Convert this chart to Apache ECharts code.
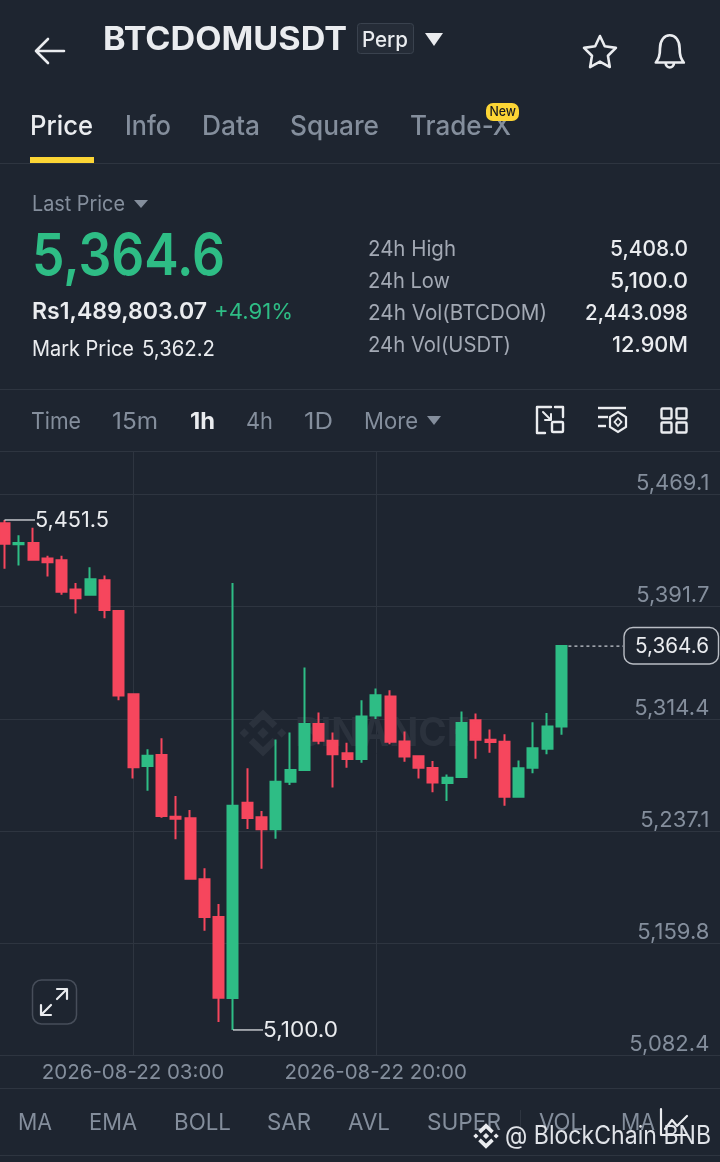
<!DOCTYPE html>
<html><head><meta charset="utf-8">
<style>html,body{margin:0;padding:0;background:#1E2530}#c{width:720px;height:1162px}</style>
<script src="https://cdn.jsdelivr.net/npm/echarts@6/dist/echarts.min.js"></script>
</head><body><div id="c"></div>
<script>
const categories = [
"2026-08-21 18:00","2026-08-21 19:00","2026-08-21 20:00","2026-08-21 21:00","2026-08-21 22:00","2026-08-21 23:00",
"2026-08-22 00:00","2026-08-22 01:00","2026-08-22 02:00","2026-08-22 03:00","2026-08-22 04:00","2026-08-22 05:00",
"2026-08-22 06:00","2026-08-22 07:00","2026-08-22 08:00","2026-08-22 09:00","2026-08-22 10:00","2026-08-22 11:00",
"2026-08-22 12:00","2026-08-22 13:00","2026-08-22 14:00","2026-08-22 15:00","2026-08-22 16:00","2026-08-22 17:00",
"2026-08-22 18:00","2026-08-22 19:00","2026-08-22 20:00","2026-08-22 21:00","2026-08-22 22:00","2026-08-22 23:00",
"2026-08-23 00:00","2026-08-23 01:00","2026-08-23 02:00","2026-08-23 03:00","2026-08-23 04:00","2026-08-23 05:00",
"2026-08-23 06:00","2026-08-23 07:00","2026-08-23 08:00","2026-08-23 09:00",
"","","","","","","","","","",""];
// open, close, low, high
const ohlc = [
[5449.3,5435.2,5417.9,5451.5],[5434.7,5435.7,5420.2,5440.9],[5435.6,5424.1,5423.7,5446.2],[5425.0,5422.3,5412.6,5426.9],
[5423.7,5402.1,5400.0,5426.9],[5403.5,5397.5,5387.0,5408.0],[5400.0,5410.6,5400.0,5419.0],[5409.9,5389.4,5383.7,5413.3],
[5388.7,5330.5,5327.3,5388.7],[5331.4,5281.0,5273.4,5331.4],[5281.9,5289.0,5264.9,5293.4],[5289.6,5247.4,5246.3,5301.1],
[5247.0,5245.6,5231.4,5261.2],[5245.9,5204.3,5204.3,5251.6],[5203.9,5177.9,5168.3,5211.4],[5177.9,5122.2,5105.5,5186.9],
[5122.0,5254.5,5100.0,5408.0],[5256.6,5246.1,5238.5,5280.3],[5246.6,5238.3,5211.2,5250.9],[5238.3,5271.1,5231.8,5300.2],
[5271.1,5279.1,5268.8,5305.1],[5279.1,5310.8,5279.1,5349.8],[5310.8,5299.3,5297.0,5318.8],[5299.3,5290.1,5267.2,5305.1],
[5290.8,5286.7,5280.7,5297.9],[5286.7,5316.1,5284.1,5327.3],[5316.8,5330.7,5314.4,5335.3],[5329.8,5298.6,5297.0,5334.2],
[5298.9,5288.5,5284.8,5305.7],[5288.7,5280.7,5273.4,5288.7],[5280.5,5270.6,5263.9,5285.3],[5270.2,5273.8,5257.8,5276.1],
[5274.3,5311.5,5274.3,5319.5],[5313.5,5300.0,5286.9,5318.1],[5300.0,5298.4,5291.0,5307.1],[5298.6,5260.7,5254.5,5303.9],
[5260.7,5280.3,5260.3,5285.8],[5280.7,5294.2,5277.0,5312.1],[5293.8,5309.2,5290.1,5318.5],[5309.2,5364.6,5303.4,5365.1]];
const priceTicks = [5082.4,5159.8,5237.1,5314.4,5391.7,5469.1];
const xTickLabels = ["2026-08-22 03:00","2026-08-22 20:00"];
const highMark = {cat:"2026-08-21 18:00", value:5451.5, label:"5,451.5"};
const lowMark = {cat:"2026-08-22 10:00", value:5100.0, label:"5,100.0"};
const lastPrice = {cat:"2026-08-23 09:00", value:5364.6, label:"5,364.6"};
const BG='#1E2530', GRID='#2E3540', GREY='#848E9C', LBL='#A3A9B4', WHITE='#EAECEF', RED='#F6465D', GREEN='#2EBD85', YEL='#FCD535';
const FONT='Inter';
const chart = echarts.init(document.getElementById('c'),null,{renderer:'canvas'});
chart.setOption({
  animation:false, backgroundColor:BG,
  grid:{left:-2.64, top:451.5, width:728.28, height:604, containLabel:false, outerBoundsMode:'none'},
  xAxis:{type:'category',data:categories,boundaryGap:true,
    axisLine:{show:false},
    axisTick:{show:false,alignWithLabel:true},
    splitLine:{show:true,alignWithLabel:true,lineStyle:{color:GRID,width:1},
      interval:(i,v)=>xTickLabels.includes(v)},
    axisLabel:{show:true,interval:(i,v)=>xTickLabels.includes(v),color:GREY,fontFamily:FONT,fontSize:20.5,margin:7,hideOverlap:false}},
  yAxis:{type:'value',position:'right',min:5082.4,max:5498.7,scale:true,
    axisLine:{show:false},
    axisTick:{show:false,customValues:priceTicks},
    splitLine:{show:true,lineStyle:{color:GRID,width:1}},
    axisLabel:{inside:true,margin:16.3,color:GREY,fontFamily:FONT,fontSize:22,verticalAlign:'bottom',customValues:priceTicks,
      formatter:v=>Number(v).toLocaleString('en-US',{minimumFractionDigits:1,maximumFractionDigits:1})}},
  series:[{type:'candlestick',data:ohlc,barWidth:10.5,z:5,clip:false,
    itemStyle:{color:GREEN,color0:RED,borderColor:GREEN,borderColor0:RED,borderWidth:2}}]
});

const mc=document.createElement('canvas').getContext('2d');
function T(t,x0,x1,y,size,color,weight){
  const font=`${weight||400} ${size}px ${FONT}`; mc.font=font;
  const w=mc.measureText(t).width;
  return {type:'text',x:x0,y:y+1,scaleX:(x1-x0)/w,z:20,style:{text:t,x:0,y:0,font:font,fill:color,textAlign:'left',textVerticalAlign:'middle',textBaseline:'middle'}};
}
function L(x1,y1,x2,y2,c,w,dash,z){return {type:'line',z:z||1,shape:{x1,y1,x2,y2},style:{stroke:c,lineWidth:w||1,lineDash:dash}}}
function R(x,y,w,h,r,fill,stroke,lw,z){return {type:'rect',z:z||20,shape:{x,y,width:w,height:h,r},style:{fill:fill||'none',stroke:stroke||'none',lineWidth:lw||1}}}
function Tri(cx,y0,y1,hw,c){return {type:'polygon',z:20,shape:{points:[[cx-hw,y0],[cx+hw,y0],[cx,y1]]},style:{fill:c}}}
let pathId=0;
function Pa(d,x,y,sx,sy,stroke,fill,lw,z){
  const name='uiPath'+(pathId++);
  echarts.graphic.registerShape(name,echarts.graphic.extendPath(d,{}));
  return {type:name,z:z||20,x,y,scaleX:sx,scaleY:sy,style:{fill:fill||'none',stroke:stroke||'none',lineWidth:lw||2,lineJoin:'round',lineCap:'round',strokeNoScale:true}};
}
function Diamonds(cx,cy,s,c,z){ // Binance mark
  const d=(x,y,r)=>({type:'polygon',z,shape:{points:[[x,y-r],[x+r,y],[x,y+r],[x-r,y]]},style:{fill:c}});
  const ch=(pts)=>({type:'polyline',z,shape:{points:pts},style:{stroke:c,lineWidth:s*0.28,fill:'none',lineJoin:'miter'}});
  return [d(cx,cy,s*0.24),d(cx-s*0.78,cy,s*0.2),d(cx+s*0.78,cy,s*0.2),
    ch([[cx-s*.5,cy-s*.3],[cx,cy-s*.78],[cx+s*.5,cy-s*.3]]),
    ch([[cx-s*.5,cy+s*.3],[cx,cy+s*.78],[cx+s*.5,cy+s*.3]])];
}
const P=(c,v)=>chart.convertToPixel({gridIndex:0},[c,v]);
const hp=P(highMark.cat,highMark.value), lp=P(lowMark.cat,lowMark.value), cp=P(lastPrice.cat,lastPrice.value);
const g=[
  // top bar
  Pa('M28 0 L0 0 M12 -12 L0 0 L12 12',36,51,1,1,WHITE,null,2.6),
  T('BTCDOMUSDT',103,347,39.5,32,WHITE,700),
  R(357.5,23.5,56,30,3,'#252C37','#3A424E',1),
  T('Perp',362,408,39.5,21,WHITE,500),
  Tri(434,33,46,9,WHITE),
  Pa('M12 0 L15.6 7.6 L24 8.8 L18 14.6 L19.4 23 L12 19 L4.6 23 L6 14.6 L0 8.8 L8.4 7.6 Z',584,36,1.33,1.35,WHITE,null,2.6),
  Pa('M2 22 C4 19 5 17 5 11 C5 5 8 1 12 1 C16 1 19 5 19 11 C19 17 20 19 22 22 Z M9 22 C9 27 15 27 15 22',653,34,1.4,1.3,WHITE,null,2.6),
  // tabs
  T('Price',30,93,126,27,WHITE,500),T('Info',125,171,126,27,GREY,500),T('Data',202,260,126,27,GREY,500),
  T('Square',290,379,126,27,GREY,500),T('Trade-X',410,511,126,27,GREY,500),
  R(486,103,33,18,7,YEL,null,1,21),
  Object.assign(T('New',489.5,516,111,13,'#181A20',500),{z:22}),
  R(30,157,64,6,0,YEL),
  L(0,163.5,720,163.5,GRID),
  // stats
  T('Last Price',32,125,204,21,GREY,400),Tri(141,200,208,7,GREY),
  T('5,364.6',32,225,257,58,GREEN,600),
  T('Rs1,489,803.07',32,207,311,23,WHITE,600),T('+4.91%',214,293,311,22,GREEN,400),
  T('Mark Price',32,134,349,21,WHITE,400),T('5,362.2',142,215,349,21,WHITE,400),
  T('24h High',368,456,249,21,LBL,400),T('24h Low',368,450,281,21,LBL,400),
  T('24h Vol(BTCDOM)',368,547,313,21,LBL,400),T('24h Vol(USDT)',368,511,345,21,LBL,400),
  T('5,408.0',610,688,249,21,WHITE,500),T('5,100.0',610,688,281,21,WHITE,500),
  T('2,443.098',585,688,313,21,WHITE,500),T('12.90M',612,688,345,21,WHITE,500),
  L(0,389.5,720,389.5,GRID),
  // interval row
  T('Time',31,81,421,23,GREY),T('15m',112,158,421,23,GREY),T('1h',190,215,421,23,WHITE,700),
  T('4h',246,273,421,23,GREY),T('1D',304,333,421,23,GREY),T('More',364,418,421,23,GREY),Tri(434,416,425,7,GREY),
  Pa('M14 0 H0 V26 H8 M18 0 H26 V10',537,407,1,1,WHITE,null,2.4),
  R(552,422,11,10,1,null,WHITE,2.4),
  Pa('M0 0 L8 8 M8 2 V8 H2',543,412,1,1,WHITE,null,2),
  L(598,408,626,408,WHITE,2.4,null,20),L(598,417,608,417,WHITE,2.4,null,20),L(598,426,606,426,WHITE,2.4,null,20),
  {type:'polygon',z:20,shape:{points:[[618,412],[626,417],[626,427],[618,432],[610,427],[610,417]]},style:{fill:'none',stroke:WHITE,lineWidth:2.2}},
  {type:'polygon',z:20,shape:{points:[[618,418],[621.5,422],[618,426],[614.5,422]]},style:{fill:'none',stroke:WHITE,lineWidth:1.8}},
  R(661.5,408.5,10,10,1,null,WHITE,2.4),R(676.5,408.5,10,10,1,null,WHITE,2.4),
  R(661.5,422.5,10,10,1,null,WHITE,2.4),R(676.5,422.5,10,10,1,null,WHITE,2.4),
  L(0,451.5,720,451.5,GRID),
  // watermark
  ...Diamonds(263,733,24,'#2B323D',1),
  Object.assign(T('BINANCE',295,470,733,40,'#2B323D',700),{z:1}),
  // annotations
  L(hp[0],hp[1],35,hp[1],WHITE,1.2,null,12),
  T(highMark.label,35,109,hp[1],21,WHITE,400),
  L(lp[0],lp[1],263,lp[1],WHITE,1.2,null,12),
  T(lowMark.label,263,338,lp[1],21,WHITE,400),
  L(cp[0]+7,cp[1],623,cp[1],'#C8CCD2',1.2,[3,3],12),
  R(624,627.5,94.5,36.5,9,BG,'#B9BDC4',1.4),
  T(lastPrice.label,635,709,cp[1],21,WHITE,400),
  // expand button
  R(32.5,980,44,44,9,'#1E2530','#474E5A',1.5),
  Pa('M0 26 L10 16 M0 16 V26 H10 M16 10 L26 0 M16 0 H26 V10',41,989,1,1,WHITE,null,2.2),
  // bottom
  L(0,1055.5,720,1055.5,GRID),L(0,1088.5,720,1088.5,GRID),L(0,1155.5,720,1155.5,GRID),
  T('MA',18,52,1122,23,GREY),T('EMA',89,137,1122,23,GREY),T('BOLL',174,231,1122,23,GREY),T('SAR',267,311,1122,23,GREY),
  T('AVL',348,390,1122,23,GREY),T('SUPER',427,501,1122,23,GREY),T('VOL',539,583,1122,23,GREY),T('MA',621,655,1122,23,GREY),
  L(520.5,1110,520.5,1134,GRID),
  Pa('M0 0 V26 H26 M4 20 L11 11 L16 17 L26 7',661,1109,1,1,WHITE,null,2.2),
  ...Diamonds(486,1136,13,WHITE,30),
  Object.assign(T('@ BlockChain BNB',505,711,1135,25,'#E0E3E8',400),{z:30})
];
chart.setOption({graphic:{elements:g}});
</script></body></html>
